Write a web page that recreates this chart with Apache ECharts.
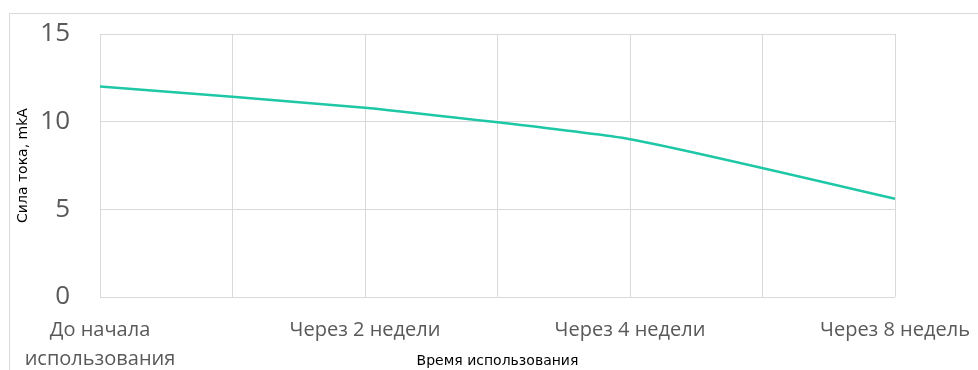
<!DOCTYPE html>
<html>
<head>
<meta charset="utf-8">
<script src="https://cdn.jsdelivr.net/npm/echarts@6/dist/echarts.min.js"></script>
<style>
  html, body { margin: 0; padding: 0; background: #fff; }
  #chart { width: 978px; height: 370px; }
</style>
</head>
<body>
<div id="chart"></div>
<script>
// Measurement periods and the current reading at each of them
const periods = ['До начала\nиспользования', 'Через 2 недели', 'Через 4 недели', 'Через 8 недель'];
const current = [12, 10.8, 9, 5.6];
// Vertical gridlines fall at every period and halfway between them
const gridSlots = ['', '', '', '', '', '', ''];
const yTicks = [0, 5, 10, 15];

const font = '"Open Sans", "Noto Sans", sans-serif';
const titleFont = '"DejaVu Sans", sans-serif';
const chart = echarts.init(document.getElementById('chart'));

chart.setOption({
  animation: false,
  graphic: [{
    type: 'rect',
    shape: { x: 9.5, y: 13.5, width: 1000, height: 400 },
    style: { fill: 'none', stroke: '#d9d9d9', lineWidth: 1 },
    silent: true
  }],
  grid: {
    left: 100, right: 83, top: 34, bottom: 73,
    containLabel: false, outerBoundsMode: 'none'
  },
  xAxis: [{
    type: 'category',
    data: periods,
    boundaryGap: false,
    axisLine: { show: false },
    axisTick: { show: false },
    splitLine: { show: false },
    axisLabel: {
      color: '#595959', fontSize: 20, fontFamily: font,
      lineHeight: 29, margin: 19, interval: 0
    },
    name: 'Время использования',
    nameLocation: 'middle',
    nameGap: 57,
    nameMoveOverlap: false,
    nameTextStyle: { color: '#000', fontSize: 14, fontFamily: titleFont }
  }, {
    type: 'category',
    data: gridSlots,
    boundaryGap: false,
    position: 'bottom',
    axisLine: { show: false },
    axisTick: { show: false },
    axisLabel: { show: false },
    splitLine: { show: true, lineStyle: { color: '#d9d9d9', width: 1 } }
  }],
  yAxis: {
    type: 'value',
    min: yTicks[0],
    max: yTicks[yTicks.length - 1],
    interval: yTicks[1] - yTicks[0],
    axisLine: { show: false },
    axisTick: { show: false },
    axisLabel: { color: '#595959', fontSize: 26, fontFamily: font, margin: 30 },
    splitLine: { lineStyle: { color: '#d9d9d9', width: 1 } },
    name: 'Сила тока, mkA',
    nameLocation: 'middle',
    nameGap: 70,
    nameRotate: 90,
    nameMoveOverlap: false,
    nameTextStyle: { color: '#000', fontSize: 14, fontFamily: titleFont }
  },
  series: [{
    type: 'line',
    xAxisIndex: 0,
    data: current,
    smooth: 0.15,
    symbol: 'none',
    lineStyle: { color: '#1ec7a6', width: 2.5 }
  }]
});
</script>
</body>
</html>
